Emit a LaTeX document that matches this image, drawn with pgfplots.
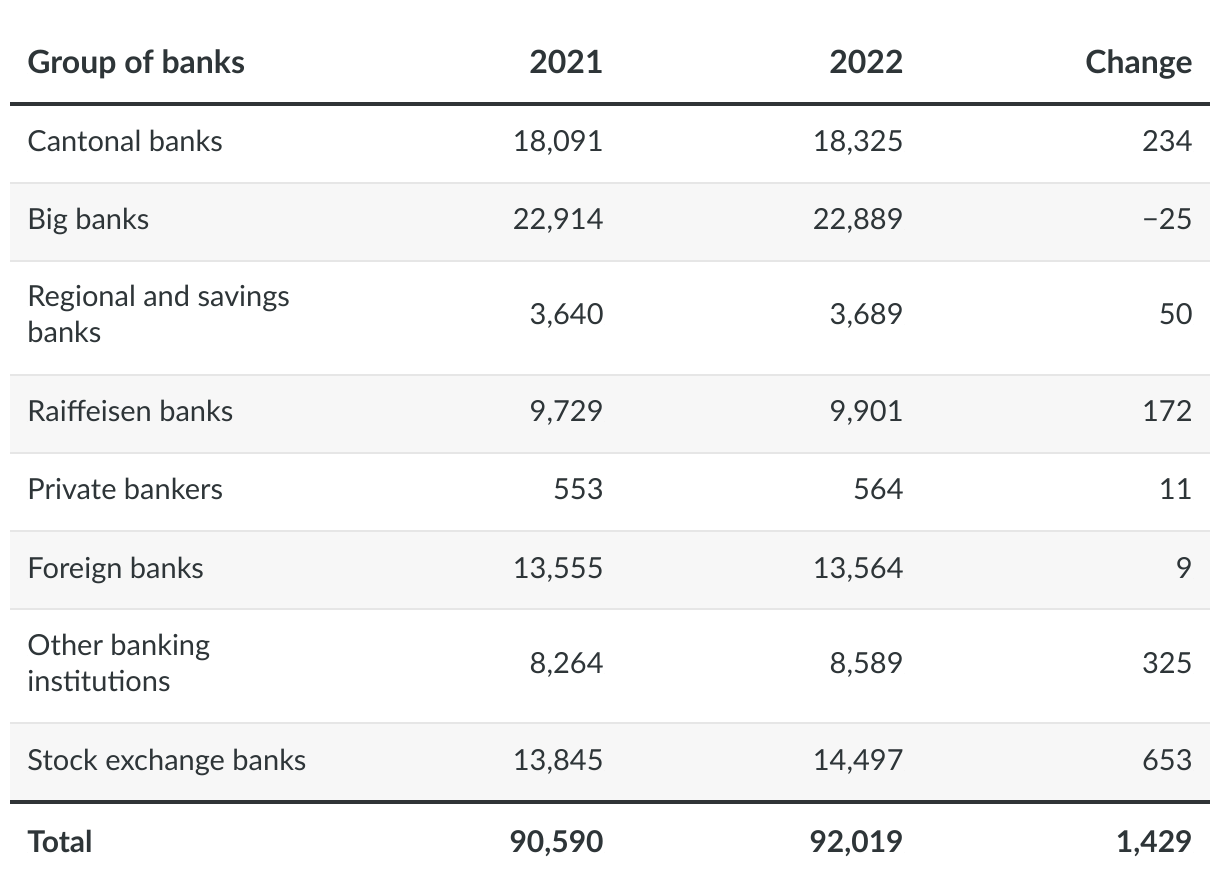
\documentclass[border=0pt]{standalone}
\usepackage{fontspec}
\setmainfont{Lato}
\usepackage{pgfplots}
\usepackage{pgfplotstable}
\pgfplotsset{compat=1.18}
\definecolor{txt}{HTML}{2E3538}
\definecolor{rulethick}{HTML}{303436}
\definecolor{rulethin}{HTML}{E6E6E6}
\definecolor{stripe}{HTML}{F7F7F7}

% baseline (px from top), 2021, 2022, change
\pgfplotstableread{
y a b c
152 18091 18325 234
230 22914 22889 -25
325 3640 3689 50
422 9729 9901 172
500 553 564 11
578 13555 13564 9
673 8264 8589 325
770 13845 14497 653
}\banks
\pgfplotstableread{
y a b c
852 90590 92019 1429
}\total

\newcommand\signednum{%
  \pgfkeys{/pgf/fpu=true,/pgf/fpu/output format=float}%
  \pgfmathparse{\pgfplotspointmeta<0}%
  \pgfmathfloattoint{\pgfmathresult}\let\isneg\pgfmathresult
  \pgfmathparse{abs(\pgfplotspointmeta)}\let\absv\pgfmathresult
  \pgfkeys{/pgf/fpu=false}%
  \ifnum\isneg=1 −\fi\pgfmathprintnumber{\absv}}

\newcommand\bodyfont{\fontsize{14.5}{17}\selectfont}
\newcommand\headfont{\fontsize{16}{19}\selectfont\bfseries}
\newcommand\totfont{\fontsize{15}{18}\selectfont\bfseries}

\begin{document}
\begin{tikzpicture}
\begin{axis}[
  scale only axis, width=610pt, height=446pt,
  xmin=0, xmax=1220, ymin=0, ymax=892, y dir=reverse,
  hide axis, clip=false,
  /pgf/number format/.cd, fixed, precision=0, 1000 sep={,}, assume math mode=true,
  /pgfplots/.cd,
  txtplot/.style={only marks, mark=*, mark size=0pt, mark options={draw=none,fill=none},
    nodes near coords,
    nodes near coords style={anchor=#1, inner sep=0pt, text=txt, font=\bodyfont}},
  numplot/.style={txtplot=base east, point meta=explicit, nodes near coords={\signednum}},
]
% background
\fill[white] (axis cs:0,0) rectangle (axis cs:1220,892);
% stripes
\fill[stripe] (axis cs:10,183) rectangle (axis cs:1210,261);
\fill[stripe] (axis cs:10,375) rectangle (axis cs:1210,453);
\fill[stripe] (axis cs:10,531) rectangle (axis cs:1210,609);
\fill[stripe] (axis cs:10,723) rectangle (axis cs:1210,801);
% thin rules
\draw[rulethin, line width=1pt] (axis cs:10,183) -- (axis cs:1210,183);
\draw[rulethin, line width=1pt] (axis cs:10,261) -- (axis cs:1210,261);
\draw[rulethin, line width=1pt] (axis cs:10,375) -- (axis cs:1210,375);
\draw[rulethin, line width=1pt] (axis cs:10,453) -- (axis cs:1210,453);
\draw[rulethin, line width=1pt] (axis cs:10,531) -- (axis cs:1210,531);
\draw[rulethin, line width=1pt] (axis cs:10,609) -- (axis cs:1210,609);
\draw[rulethin, line width=1pt] (axis cs:10,723) -- (axis cs:1210,723);
% thick rules
\draw[rulethick, line width=2pt] (axis cs:10,104) -- (axis cs:1210,104);
\draw[rulethick, line width=2pt] (axis cs:10,802) -- (axis cs:1210,802);

% header
\addplot[txtplot=base west, point meta=explicit symbolic,
  nodes near coords style={font=\headfont}]
  coordinates {(27,74) [Group of banks]};
\addplot[txtplot=base east, point meta=explicit symbolic,
  nodes near coords style={font=\headfont}]
  coordinates {(604,74) [2021] (904,74) [2022] (1193,74) [Change]};

% row names
\addplot[txtplot=base west, point meta=explicit symbolic]
  coordinates {
  (27,152) [Cantonal banks]
  (27,230) [Big banks]
  (27,307) [Regional and savings]
  (27,343) [banks]
  (27,422) [Raiffeisen banks]
  (27,500) [Private bankers]
  (27,578) [Foreign banks]
  (27,655) [Other banking]
  (27,691) [institutions]
  (27,770) [Stock exchange banks]
  };
\addplot[txtplot=base west, point meta=explicit symbolic,
  nodes near coords style={font=\totfont}]
  coordinates {(27,852) [Total]};

% values
\addplot[numplot] table[x expr=604, y=y, meta=a] {\banks};
\addplot[numplot] table[x expr=904, y=y, meta=b] {\banks};
\addplot[numplot] table[x expr=1193, y=y, meta=c] {\banks};
\addplot[numplot, nodes near coords style={font=\totfont}] table[x expr=604, y=y, meta=a] {\total};
\addplot[numplot, nodes near coords style={font=\totfont}] table[x expr=904, y=y, meta=b] {\total};
\addplot[numplot, nodes near coords style={font=\totfont}] table[x expr=1193, y=y, meta=c] {\total};
\end{axis}
\end{tikzpicture}
\end{document}
